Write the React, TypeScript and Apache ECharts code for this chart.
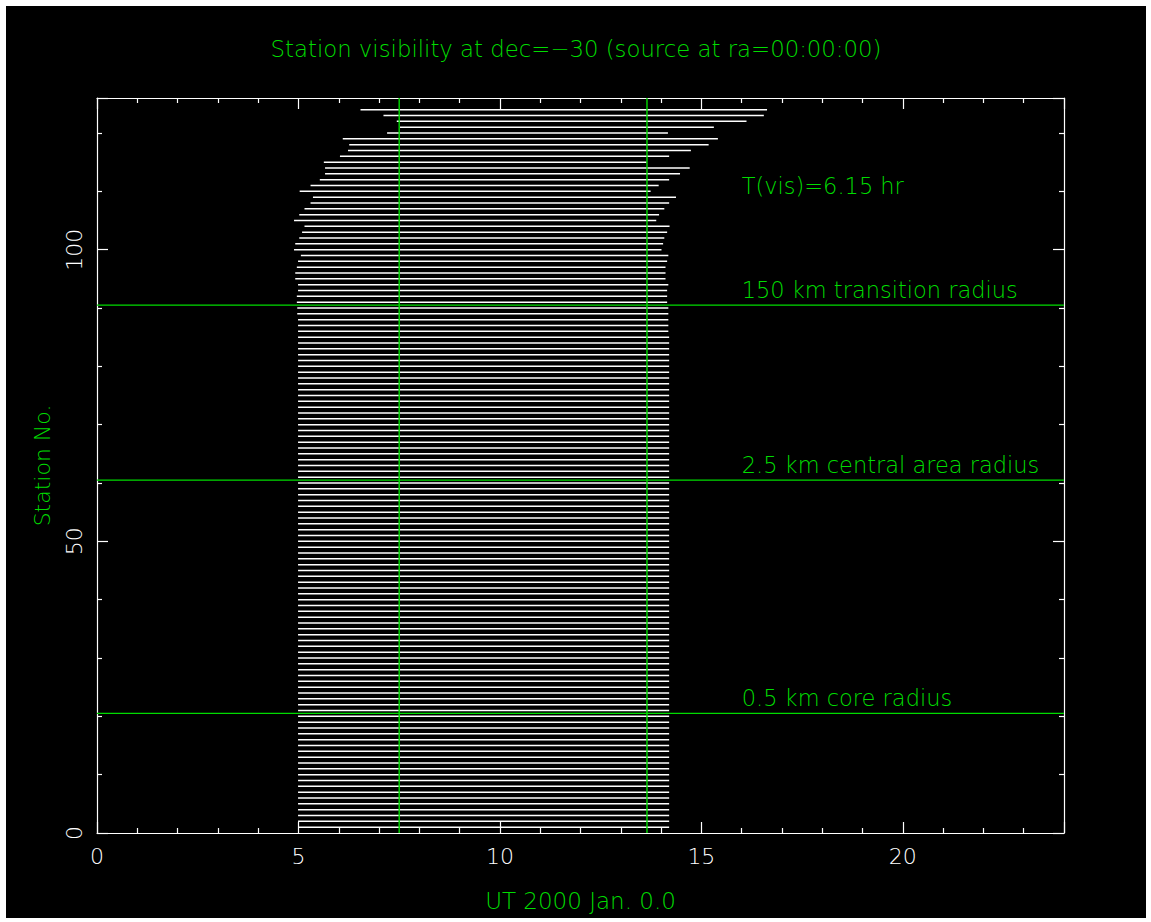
import React, { useEffect, useRef } from "react";
import * as echarts from "echarts";

// Per-station visibility window (UT hours), station 1 .. 124
const stationStart = [
  4.99, 4.99, 4.99, 4.99, 4.99, 4.99, 4.99, 4.99, 4.99, 4.99,
  4.99, 4.99, 4.99, 4.99, 4.99, 4.99, 4.99, 4.99, 4.99, 4.99,
  4.99, 4.99, 4.99, 4.99, 4.99, 4.99, 4.99, 4.99, 4.99, 4.99,
  4.99, 4.99, 4.99, 4.99, 4.99, 4.99, 4.99, 4.99, 4.99, 4.99,
  4.99, 4.99, 4.99, 4.99, 4.99, 4.99, 4.99, 4.99, 4.99, 4.99,
  4.99, 4.99, 4.99, 4.99, 4.99, 4.99, 4.99, 4.99, 4.99, 4.99,
  4.99, 4.99, 4.99, 4.99, 4.99, 4.99, 4.99, 4.99, 4.99, 4.99,
  4.99, 4.99, 4.99, 4.99, 4.99, 4.99, 4.99, 4.99, 4.99, 4.99,
  4.99, 4.99, 4.99, 4.99, 4.99, 4.99, 4.99,
  4.99, 4.97, 4.97, 4.96, 4.96, 4.99, 4.99, 4.92, 4.92, 4.96,
  4.99, 5.06, 4.89, 4.92, 5.02, 5.09, 5.15, 4.89, 5.02, 5.15,
  5.30, 5.36, 5.03, 5.30, 5.53, 5.66, 5.66, 5.63, 6.03, 6.23,
  6.26, 6.10, 7.20, 7.52, 7.44, 7.11, 6.54,
];

const stationEnd = [
  14.2, 14.2, 14.2, 14.2, 14.2, 14.2, 14.2, 14.2, 14.2, 14.2,
  14.2, 14.2, 14.2, 14.2, 14.2, 14.2, 14.2, 14.2, 14.2, 14.2,
  14.2, 14.2, 14.2, 14.2, 14.2, 14.2, 14.2, 14.2, 14.2, 14.2,
  14.2, 14.2, 14.2, 14.2, 14.2, 14.2, 14.2, 14.2, 14.2, 14.2,
  14.2, 14.2, 14.2, 14.2, 14.2, 14.2, 14.2, 14.2, 14.2, 14.2,
  14.2, 14.2, 14.2, 14.2, 14.2, 14.2, 14.2, 14.2, 14.2, 14.2,
  14.2, 14.2, 14.2, 14.2, 14.2, 14.2, 14.2, 14.2, 14.2, 14.2,
  14.2, 14.2, 14.2, 14.2, 14.2, 14.2, 14.2, 14.2, 14.2, 14.2,
  14.2, 14.2, 14.2, 14.2, 14.2, 14.18, 14.18,
  14.18, 14.18, 14.18, 14.15, 14.15, 14.15, 14.18, 14.11, 14.11, 14.11,
  14.15, 14.18, 14.01, 14.05, 14.08, 14.15, 14.21, 13.88, 13.95, 14.08,
  14.2, 14.37, 13.74, 13.94, 14.2, 14.47, 14.71, 13.64, 14.2, 14.74,
  15.18, 15.41, 14.17, 15.31, 16.12, 16.55, 16.63,
];

// Common visibility window
const windowStart = 7.5;
const visHours = 6.15;

// Radius boundaries between station groups
const radiusBoundaries = [20.5, 60.5, 90.5];
const radiusLabels = [
  "0.5 km core radius",
  "2.5 km central area radius",
  "150 km transition radius",
];

const xTicks = [0, 5, 10, 15, 20];
const yTicks = [0, 50, 100];

const X_MAX = 24;
const Y_MAX = 126;

const GREEN = "#00dc00";
const WHITE = "#ffffff";
const FONT = "DejaVu Sans";
const WEIGHT = 300;

export default function App() {
  const ref = useRef<HTMLDivElement>(null);

  useEffect(() => {
    if (!ref.current) return;
    const chart = echarts.init(ref.current, undefined, { renderer: "svg" });

    const stationData = stationStart.map((s, i) => [i + 1, s, stationEnd[i]]);
    const windowEnd = windowStart + visHours;

    const annotationData: any[] = [
      [16.0, 111, `T(vis)=${visHours.toFixed(2)} hr`],
      ...radiusBoundaries.map((b, i) => [16.0, b + 2.6, radiusLabels[i]]),
    ];

    const greenLine = (data: number[][]) => ({
      type: "line",
      data,
      symbol: "none",
      silent: true,
      z: 5,
      lineStyle: { color: GREEN, width: 1.4 },
    });

    const axisLine = { show: true, onZero: false, lineStyle: { color: WHITE, width: 1.2 } };
    const axisTick = { show: true, inside: true, length: 11, lineStyle: { color: WHITE, width: 1.2 } };
    const minorTick = { show: true, splitNumber: 5, length: 5, lineStyle: { color: WHITE, width: 1.2 } };

    const baseX = {
      type: "value",
      min: 0,
      max: X_MAX,
      interval: 5,
      splitLine: { show: false },
      axisLine,
      axisTick,
      minorTick,
    };
    const baseY = {
      type: "value",
      min: 0,
      max: Y_MAX,
      interval: 50,
      splitLine: { show: false },
      axisLine,
      axisTick,
      minorTick,
    };

    chart.setOption({
      animation: false,
      backgroundColor: "#000000",
      title: {
        text: "Station visibility at dec=\u221230 (source at ra=00:00:00)",
        left: "center",
        top: 26,
        textStyle: { color: GREEN, fontSize: 22.8, fontWeight: WEIGHT, fontFamily: FONT },
      },
      grid: { left: 91, top: 92, width: 967, height: 735 },
      xAxis: [
        {
          ...baseX,
          position: "bottom",
          name: "UT 2000 Jan. 0.0",
          nameLocation: "middle",
          nameGap: 56,
          nameTextStyle: { color: GREEN, fontSize: 23, fontWeight: WEIGHT, fontFamily: FONT },
          axisLabel: {
            color: WHITE,
            fontSize: 22,
            fontWeight: WEIGHT,
            fontFamily: FONT,
            margin: 12,
            showMaxLabel: false,
            formatter: (v: number) => (xTicks.includes(v) ? String(v) : ""),
          },
        },
        { ...baseX, position: "top", axisLabel: { show: false } },
      ],
      yAxis: [
        {
          ...baseY,
          position: "left",
          name: "Station No.",
          nameLocation: "middle",
          nameGap: 44,
          nameTextStyle: { color: GREEN, fontSize: 22, fontWeight: WEIGHT, fontFamily: FONT },
          axisLabel: {
            color: WHITE,
            fontSize: 22,
            fontWeight: WEIGHT,
            fontFamily: FONT,
            rotate: 90,
            margin: 12,
            showMaxLabel: false,
            formatter: (v: number) => (yTicks.includes(v) ? String(v) : ""),
          },
        },
        { ...baseY, position: "right", axisLabel: { show: false } },
      ],
      series: [
        {
          type: "custom",
          name: "stations",
          silent: true,
          data: stationData,
          encode: { x: [1, 2], y: 0 },
          renderItem: (_params: any, api: any) => {
            const y = api.value(0);
            const p1 = api.coord([api.value(1), y]);
            const p2 = api.coord([api.value(2), y]);
            return {
              type: "line",
              shape: { x1: p1[0], y1: p1[1], x2: p2[0], y2: p2[1] },
              style: { stroke: WHITE, lineWidth: 1.5 },
            };
          },
        },
        greenLine([[windowStart, 0], [windowStart, Y_MAX]]),
        greenLine([[windowEnd, 0], [windowEnd, Y_MAX]]),
        ...radiusBoundaries.map((b) => greenLine([[0, b], [X_MAX, b]])),
        {
          type: "custom",
          name: "annotations",
          silent: true,
          z: 6,
          data: annotationData,
          encode: { x: 0, y: 1 },
          renderItem: (params: any, api: any) => {
            const item = annotationData[params.dataIndex];
            const p = api.coord([item[0], item[1]]);
            return {
              type: "text",
              x: p[0],
              y: p[1],
              style: {
                text: item[2],
                fill: GREEN,
                fontSize: 22.5,
                fontWeight: WEIGHT,
                fontFamily: FONT,
                align: "left",
                verticalAlign: "middle",
              },
            };
          },
        },
      ],
    });

    return () => chart.dispose();
  }, []);

  return (
    <div style={{ position: "fixed", left: 0, top: 0, width: 1151, height: 922, background: "#ffffff" }}>
      <div
        ref={ref}
        style={{ position: "absolute", left: 6, top: 6, width: 1140, height: 912, background: "#000000" }}
      />
    </div>
  );
}
